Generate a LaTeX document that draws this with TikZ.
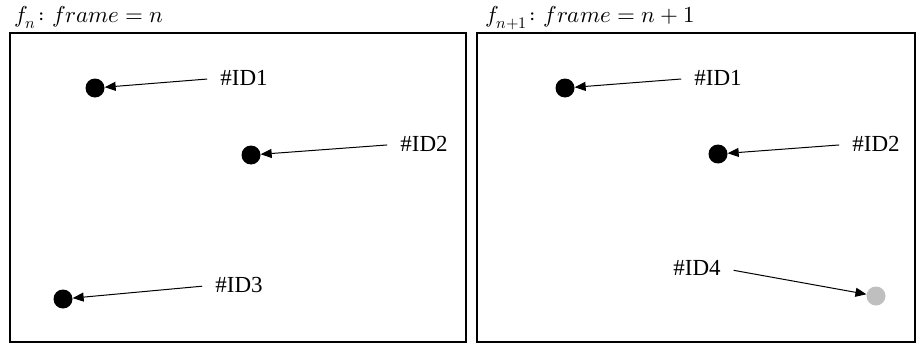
\documentclass[tikz,border=0pt]{standalone}
\usepackage{fontspec}
\setmainfont{Liberation Serif}
\usepackage{unicode-math}
\setmathfont{Latin Modern Math}
\usetikzlibrary{arrows.meta,positioning}

\begin{document}
\begin{tikzpicture}[
  x=1pt,y=-1pt,
  >={Triangle[length=11pt,width=9pt]},
  frame/.style={draw=black,line width=1.6pt},
  blob/.style={circle,fill=black,minimum size=19pt,inner sep=0pt},
  newblob/.style={circle,fill=black!25,minimum size=19pt,inner sep=0pt},
  tag/.style={font=\fontsize{23}{27}\selectfont,inner sep=0pt},
  heading/.style={font=\fontsize{23}{27}\selectfont,anchor=base west,inner sep=0pt},
  link/.style={->,line width=1pt,shorten <=13pt}
]
\useasboundingbox (0,0) rectangle (923,345);

% Panel 1: frame n.
\node[heading] (titleA) at (14,23) {$f_n\colon frame = n$};
\draw[frame] (10,33) rectangle (466,342);
\node[blob] (dotA1) at (95,88) {};
\node[blob] (dotA2) at (251,155) {};
\node[blob] (dotA3) at (63,299) {};
\node[tag] (tagA1) at (244,78) {\#ID1};
\node[tag] (tagA2) at (424,144) {\#ID2};
\node[tag] (tagA3) at (239,285) {\#ID3};
\draw[link] (tagA1.west) -- (dotA1);
\draw[link] (tagA2.west) -- (dotA2);
\draw[link] (tagA3.west) -- (dotA3);

% Panel 2: frame n+1.
\node[heading] (titleB) at (485,23) {$f_{n+1}\colon frame = n + 1$};
\draw[frame] (477,33) rectangle (915,342);
\node[blob] (dotB1) at (565,88) {};
\node[blob] (dotB2) at (718,154) {};
\node[newblob] (dotB4) at (876,296) {};
\node[tag] (tagB1) at (718,78) {\#ID1};
\node[tag] (tagB2) at (876,144) {\#ID2};
\node[tag] (tagB4) at (697,268) {\#ID4};
\draw[link] (tagB1.west) -- (dotB1);
\draw[link] (tagB2.west) -- (dotB2);
\draw[link] (tagB4.east) -- (dotB4);
\end{tikzpicture}
\end{document}
